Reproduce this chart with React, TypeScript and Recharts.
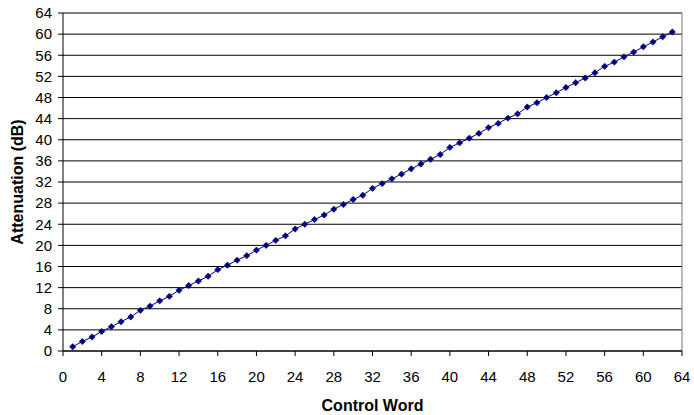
import React from 'react';
import {
  LineChart,
  Line,
  XAxis,
  YAxis,
  CartesianGrid,
  ReferenceLine,
} from 'recharts';

const controlWords: number[] = [
  1, 2, 3, 4, 5, 6, 7, 8, 9, 10, 11, 12, 13, 14, 15, 16, 17, 18, 19, 20, 21,
  22, 23, 24, 25, 26, 27, 28, 29, 30, 31, 32, 33, 34, 35, 36, 37, 38, 39, 40,
  41, 42, 43, 44, 45, 46, 47, 48, 49, 50, 51, 52, 53, 54, 55, 56, 57, 58, 59,
  60, 61, 62, 63,
];

const attenuation: number[] = [
  0.8, 1.8, 2.65, 3.7, 4.6, 5.55, 6.45, 7.7, 8.5, 9.5, 10.35, 11.5, 12.4,
  13.25, 14.15, 15.4, 16.25, 17.2, 18.05, 19.1, 20.0, 20.95, 21.8, 23.1, 24.0,
  24.9, 25.75, 26.85, 27.75, 28.7, 29.5, 30.8, 31.7, 32.6, 33.5, 34.5, 35.4,
  36.3, 37.2, 38.55, 39.4, 40.3, 41.2, 42.3, 43.1, 44.1, 44.9, 46.2, 47.0,
  48.0, 48.9, 49.9, 50.8, 51.7, 52.7, 53.9, 54.7, 55.7, 56.6, 57.6, 58.5,
  59.5, 60.4,
];

const xTicks: number[] = [0, 4, 8, 12, 16, 20, 24, 28, 32, 36, 40, 44, 48, 52, 56, 60, 64];
const yTicks: number[] = [0, 4, 8, 12, 16, 20, 24, 28, 32, 36, 40, 44, 48, 52, 56, 60, 64];

const chartData = controlWords.map((cw, i) => ({ cw, db: attenuation[i] }));

const FONT = '"Liberation Sans", Arial, sans-serif';
const NAVY = '#000080';

function Diamond(props: any) {
  const { cx, cy } = props;
  if (cx == null || cy == null) return null;
  const r = 3.2;
  return (
    <polygon
      points={`${cx},${cy - r} ${cx + r},${cy} ${cx},${cy + r} ${cx - r},${cy}`}
      fill={NAVY}
      stroke={NAVY}
      strokeWidth={0.5}
    />
  );
}

function YTitle(props: any) {
  const { viewBox } = props;
  const x = viewBox.x + 17;
  const y = viewBox.y + viewBox.height / 2;
  return (
    <text
      x={x}
      y={y}
      transform={`rotate(-90, ${x}, ${y})`}
      textAnchor="middle"
      dominantBaseline="central"
      fontFamily={FONT}
      fontSize={16}
      fontWeight="bold"
      fill="#000"
    >
      Attenuation (dB)
    </text>
  );
}

export default function App() {
  return (
    <div style={{ position: 'absolute', left: 0, top: 0, background: '#fff' }}>
      <LineChart
        width={694}
        height={415}
        data={chartData}
        margin={{ top: 13, right: 12, left: 0, bottom: 0 }}
      >
        <CartesianGrid vertical={false} stroke="#000" strokeWidth={1} />
        <ReferenceLine x={64} stroke="#777" strokeWidth={1} />
        <XAxis
          dataKey="cw"
          type="number"
          domain={[0, 64]}
          ticks={xTicks}
          interval={0}
          height={64}
          tickSize={5}
          tickMargin={15}
          stroke="#000"
          tick={{ fontFamily: FONT, fontSize: 15, fill: '#000' }}
          label={{
            value: 'Control Word',
            position: 'insideBottom',
            offset: 4,
            style: { fontFamily: FONT, fontSize: 16, fontWeight: 'bold', fill: '#000' },
          }}
        />
        <YAxis
          type="number"
          domain={[0, 64]}
          ticks={yTicks}
          interval={0}
          width={63}
          tickSize={5}
          tickMargin={6}
          stroke="#000"
          tick={{ fontFamily: FONT, fontSize: 15, fill: '#000' }}
          label={<YTitle />}
        />
        <Line
          dataKey="db"
          type="linear"
          stroke={NAVY}
          strokeWidth={1}
          dot={<Diamond />}
          activeDot={false}
          isAnimationActive={false}
        />
      </LineChart>
    </div>
  );
}
